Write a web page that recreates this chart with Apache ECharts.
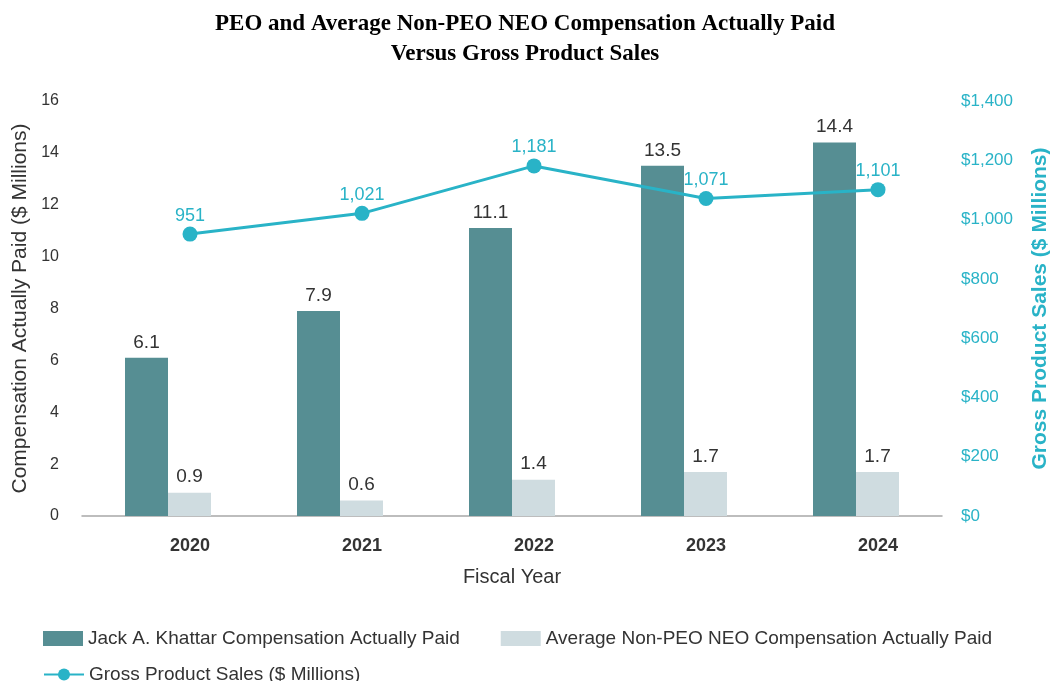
<!DOCTYPE html>
<html>
<head>
<meta charset="utf-8">
<script src="https://cdn.jsdelivr.net/npm/echarts@6/dist/echarts.min.js"></script>
<style>
  html, body { margin: 0; padding: 0; background: #fff; }
  #chart { width: 1050px; height: 681px; }
</style>
</head>
<body>
<div id="chart"></div>
<script>
(function () {
  var FONT = '"Liberation Sans", Arial, sans-serif';
  var DARK = '#568e93';
  var LIGHT = '#cfdce0';
  var TEAL = '#29b3c7';
  var TEXT = '#333333';

  var YEARS = ['2020', '2021', '2022', '2023', '2024'];
  var PEO_CAP = [6.1, 7.9, 11.1, 13.5, 14.4];
  var NEO_CAP = [0.9, 0.6, 1.4, 1.7, 1.7];
  var SALES = [951, 1021, 1181, 1071, 1101];

  var PEO_NAME = 'Jack A. Khattar Compensation Actually Paid';
  var NEO_NAME = 'Average Non-PEO NEO Compensation Actually Paid';
  var SALES_NAME = 'Gross Product Sales ($ Millions)';

  function money(v) {
    return '$' + v.toLocaleString('en-US');
  }

  var chart = echarts.init(document.getElementById('chart'), null, { renderer: 'canvas' });

  chart.setOption({
    backgroundColor: '#fff',
    animation: false,
    textStyle: { fontFamily: FONT },
    title: {
      text: 'PEO and Average Non-PEO NEO Compensation Actually Paid\nVersus Gross Product Sales',
      left: 'center',
      top: 4,
      textStyle: {
        fontFamily: '"Liberation Serif", "Times New Roman", serif',
        fontSize: 23,
        fontWeight: 'bold',
        color: '#000',
        lineHeight: 30
      }
    },
    legend: [{
      data: [PEO_NAME, NEO_NAME],
      left: 38,
      top: 624,
      itemWidth: 40,
      itemHeight: 15,
      itemGap: 41,
      icon: 'rect',
      textStyle: { fontSize: 19, color: TEXT, fontFamily: FONT }
    }, {
      data: [SALES_NAME],
      left: 38,
      top: 660,
      itemWidth: 40,
      itemHeight: 15,
      textStyle: { fontSize: 19, color: TEXT, fontFamily: FONT }
    }],
    grid: [
      { left: 82, right: 108, top: 101, height: 415, outerBoundsMode: 'none' },
      { left: 104, right: 86, top: 101, height: 415, outerBoundsMode: 'none' }
    ],
    xAxis: [{
      type: 'category',
      gridIndex: 0,
      data: YEARS,
      axisLine: { lineStyle: { color: '#a8a8a8', width: 1.5 } },
      axisTick: { show: false },
      axisLabel: { show: false },
      name: 'Fiscal Year',
      nameLocation: 'middle',
      nameGap: 51,
      nameTextStyle: { fontSize: 20, color: TEXT }
    }, {
      type: 'category',
      gridIndex: 1,
      data: YEARS,
      axisLine: { show: false },
      axisTick: { show: false },
      axisLabel: { fontSize: 18, fontWeight: 'bold', color: TEXT, margin: 21 }
    }],
    yAxis: [{
      type: 'value',
      gridIndex: 0,
      min: 0,
      max: 16,
      interval: 2,
      splitLine: { show: false },
      axisLine: { show: false },
      axisTick: { show: false },
      axisLabel: { fontSize: 16, color: TEXT, margin: 23 },
      name: 'Compensation Actually Paid ($ Millions)',
      nameLocation: 'middle',
      nameGap: 48,
      nameRotate: 90,
      nameTextStyle: { fontSize: 21, color: TEXT }
    }, {
      type: 'value',
      gridIndex: 0,
      position: 'right',
      min: 0,
      max: 1400,
      interval: 200,
      splitLine: { show: false },
      axisLine: { show: false },
      axisTick: { show: false },
      axisLabel: { fontSize: 17, color: TEAL, margin: 19, formatter: money },
      name: 'Gross Product Sales ($ Millions)',
      nameLocation: 'middle',
      nameGap: 88,
      nameRotate: 90,
      nameTextStyle: { fontSize: 21, fontWeight: 'bold', color: TEAL }
    }, {
      type: 'value',
      gridIndex: 1,
      min: 0,
      max: 1400,
      show: false
    }],
    series: [{
      name: PEO_NAME,
      type: 'bar',
      xAxisIndex: 0,
      yAxisIndex: 0,
      barWidth: 43,
      barGap: '0%',
      itemStyle: { color: DARK },
      label: { show: true, position: 'top', distance: 6, fontSize: 19, color: TEXT },
      data: PEO_CAP
    }, {
      name: NEO_NAME,
      type: 'bar',
      xAxisIndex: 0,
      yAxisIndex: 0,
      barWidth: 43,
      barGap: '0%',
      itemStyle: { color: LIGHT },
      label: { show: true, position: 'top', distance: 6, fontSize: 19, color: TEXT },
      data: NEO_CAP
    }, {
      name: SALES_NAME,
      type: 'line',
      xAxisIndex: 1,
      yAxisIndex: 2,
      symbol: 'circle',
      symbolSize: 15,
      lineStyle: { color: TEAL, width: 3 },
      itemStyle: { color: TEAL },
      label: {
        show: true,
        position: 'top',
        distance: 2,
        fontSize: 18,
        color: TEAL,
        formatter: function (p) { return p.value.toLocaleString('en-US'); }
      },
      data: SALES
    }]
  });
})();
</script>
</body>
</html>
